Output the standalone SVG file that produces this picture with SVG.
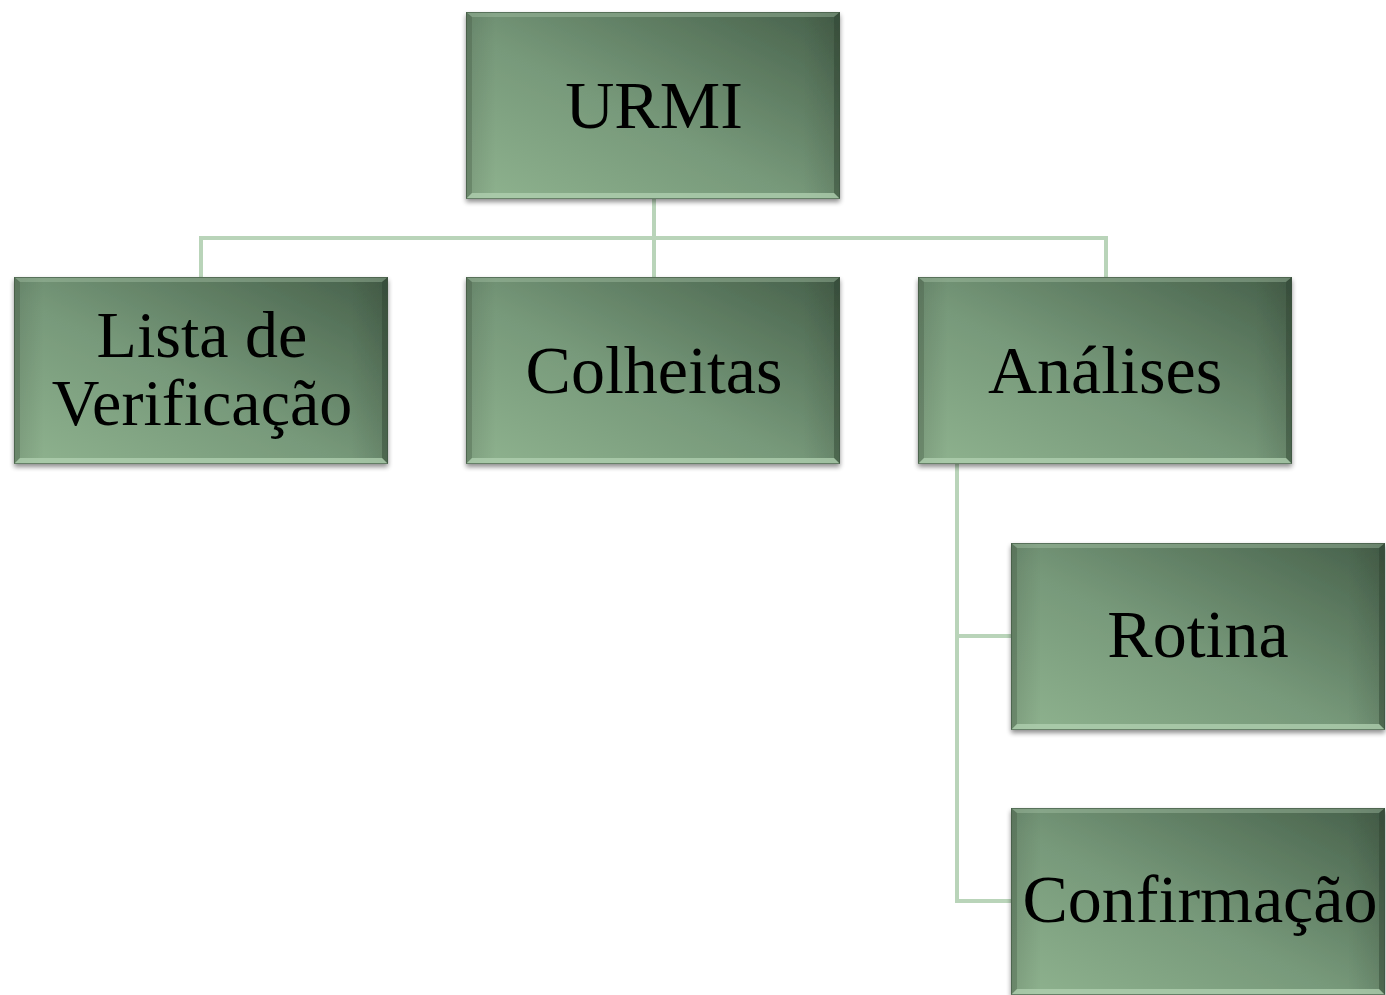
<svg xmlns="http://www.w3.org/2000/svg" width="1386" height="995" viewBox="0 0 1386 995">
<defs>
<linearGradient id="g" x1="0" y1="1" x2="1" y2="0">
<stop offset="0" stop-color="#8fb38f"/>
<stop offset="0.45" stop-color="#77997a"/>
<stop offset="1" stop-color="#46604a"/>
</linearGradient>
<linearGradient id="hl" x1="0" y1="0" x2="1" y2="0">
<stop offset="0" stop-color="#000" stop-opacity="0.12"/>
<stop offset="0.08" stop-color="#000" stop-opacity="0"/>
<stop offset="0.9" stop-color="#000" stop-opacity="0"/>
<stop offset="1" stop-color="#000" stop-opacity="0.1"/>
</linearGradient>
<filter id="sh" x="-5%" y="-5%" width="110%" height="115%">
<feGaussianBlur in="SourceAlpha" stdDeviation="2.5"/>
<feOffset dx="0" dy="3"/>
<feComponentTransfer><feFuncA type="linear" slope="0.45"/></feComponentTransfer>
<feMerge><feMergeNode/><feMergeNode in="SourceGraphic"/></feMerge>
</filter>
<symbol id="box" viewBox="0 0 374 187" overflow="visible">
<rect x="0" y="0" width="374" height="187" fill="url(#g)"/>
<rect x="0" y="0" width="374" height="187" fill="url(#hl)"/>
<polygon points="0,0 374,0 368,5 6,5" fill="#a9c6a9" opacity="0.4"/>
<polygon points="0,0 6,5 6,181 0,187" fill="#3e5440" opacity="0.3"/>
<polygon points="374,0 374,187 368,181 368,5" fill="#2f4231" opacity="0.45"/>
<polygon points="0,187 6,181 368,181 374,187" fill="#b2d2b2" opacity="0.75"/>
<rect x="0.5" y="0.5" width="373" height="186" fill="none" stroke="#3c523e" stroke-opacity="0.6"/>
</symbol>
<style>
.t{font-family:"Liberation Serif","DejaVu Serif",serif;font-size:68px;fill:#000;text-anchor:middle}
.s{font-size:66px}
.c{fill:none;stroke:#b9d4b9;stroke-width:4}
</style>
</defs>
<rect width="1386" height="995" fill="#fff"/>
<g id="connectors">
<path class="c" d="M654 199 V277 M201 277 V238 H1106 V277"/>
<path class="c" d="M957 464 V901 H1011 M957 636 H1011"/>
</g>
<g id="urmi" filter="url(#sh)">
<use href="#box" x="466" y="12" width="374" height="187"/>
<text class="t" x="654" y="128">URMI</text>
</g>
<g id="lista" filter="url(#sh)">
<use href="#box" x="14" y="277" width="374" height="187"/>
<text class="t s" x="202" y="357">Lista de</text>
<text class="t s" x="202" y="425">Verificação</text>
</g>
<g id="colheitas" filter="url(#sh)">
<use href="#box" x="466" y="277" width="374" height="187"/>
<text class="t" x="654" y="393">Colheitas</text>
</g>
<g id="analises" filter="url(#sh)">
<use href="#box" x="918" y="277" width="374" height="187"/>
<text class="t" x="1105" y="393">Análises</text>
</g>
<g id="rotina" filter="url(#sh)">
<use href="#box" x="1011" y="543" width="374" height="187"/>
<text class="t" x="1198" y="657">Rotina</text>
</g>
<g id="confirmacao" filter="url(#sh)">
<use href="#box" x="1011" y="808" width="374" height="187"/>
<text class="t" x="1200" y="922">Confirmação</text>
</g>
</svg>
